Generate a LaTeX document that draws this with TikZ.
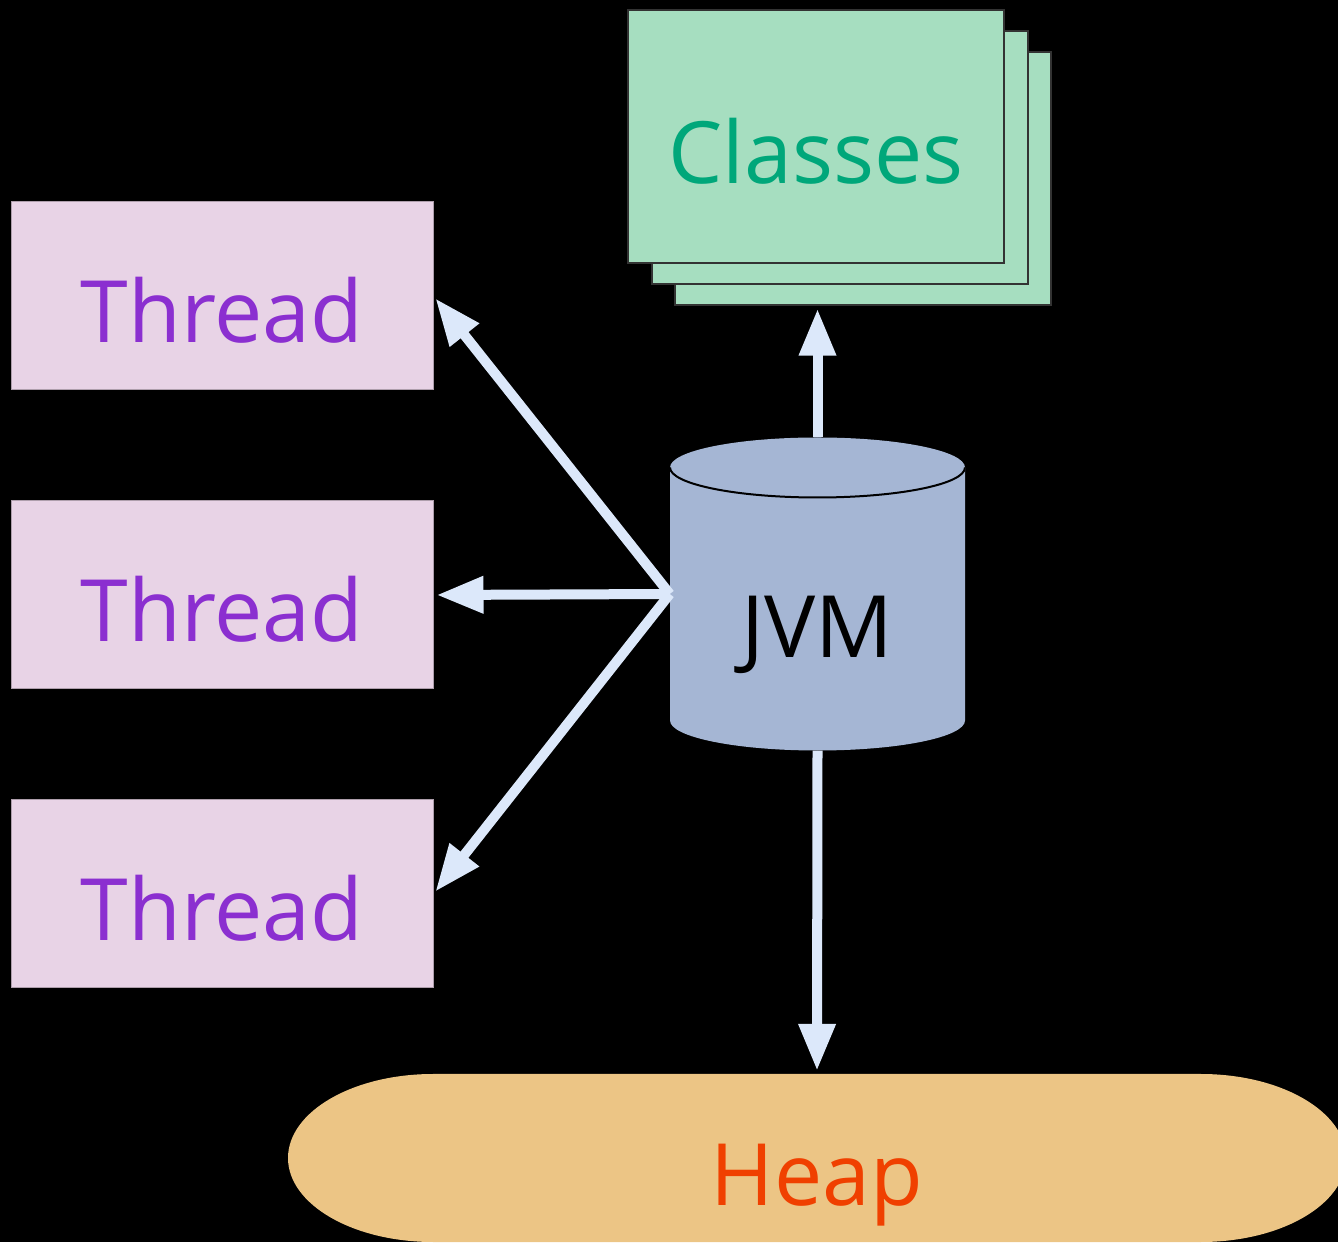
\documentclass[tikz,border=0pt]{standalone}
\usepackage{fontspec}
\setmainfont{Open Sans}
\usetikzlibrary{arrows.meta,positioning,calc}
\definecolor{ThreadFill}{HTML}{E8D3E6}
\definecolor{ThreadText}{HTML}{8B2FD0}
\definecolor{ClassFill}{HTML}{A6DEC0}
\definecolor{ClassText}{HTML}{00A77A}
\definecolor{JvmFill}{HTML}{A5B6D4}
\definecolor{HeapFill}{HTML}{ECC585}
\definecolor{HeapText}{HTML}{F04000}
\definecolor{Flow}{HTML}{DCE8FA}

\begin{document}
\begin{tikzpicture}[x=1pt,y=1pt,font=\fontsize{86}{96}\selectfont,>={Triangle[length=47pt,width=35pt]},node distance=110pt,
  every node/.style={inner sep=0pt,text height=94pt,text depth=0pt},
  thread/.style={draw=ThreadFill!75!black,line width=1pt,fill=ThreadFill,text=ThreadText,minimum width=422pt,minimum height=188pt},
  page/.style={draw=black!80,line width=1.5pt,fill=ClassFill,text=ClassText,minimum width=376pt,minimum height=253pt},
  flow/.style={->,draw=Flow,fill=Flow,line width=10pt,shorten >=3pt}]
  \fill[black] (0,0) rectangle (1338,1242);
  \useasboundingbox (0,0) rectangle (1338,1242);
  % threads
  \node[thread] (t1) at (222,946) {Thread};
  \node[thread,below=of t1] (t2) {Thread};
  \node[thread,below=of t2] (t3) {Thread};
  % classes, stacked
  \node[page] (cls3) at (863,1063.5) {};
  \node[page] (cls2) at (840,1084.5) {};
  \node[page] (cls) at (816,1105.5) {Classes};
  % jvm cylinder
  \node[fill=black,minimum width=295pt,minimum height=313pt,text height=127pt,path picture={
      \fill[JvmFill] ($(path picture bounding box.north west)+(0,-30)$) -- ($(path picture bounding box.south west)+(0,30)$)
        arc[start angle=180,end angle=360,x radius=147.5,y radius=30] -- ($(path picture bounding box.north east)+(0,-30)$)
        arc[start angle=0,end angle=180,x radius=147.5,y radius=30] -- cycle;
      \draw[line width=2pt] ($(path picture bounding box.north west)+(0,-30)$) arc[start angle=180,end angle=360,x radius=147.5,y radius=30];
    }] (jvm) at (817.5,648) {JVM};
  % heap
  \node[fill=black,text=HeapText,minimum width=1058pt,minimum height=168pt,path picture={
      \fill[HeapFill] ($(path picture bounding box.north west)+(145,0)$) -- ($(path picture bounding box.north east)+(-145,0)$)
        arc[start angle=90,end angle=-90,x radius=145,y radius=84] -- ($(path picture bounding box.south west)+(145,0)$)
        arc[start angle=270,end angle=90,x radius=145,y radius=84] -- cycle;
    }] (heap) at (817,84) {Heap};
  % connectors
  \draw[flow] (jvm.west) -- (t1.east);
  \draw[flow] (jvm.west) -- (t2.east);
  \draw[flow] (jvm.west) -- (t3.east);
  \draw[flow] (jvm.north) -- (jvm.north |- cls3.south);
  \draw[flow] (jvm.south) -- (heap.north);
\end{tikzpicture}
\end{document}
